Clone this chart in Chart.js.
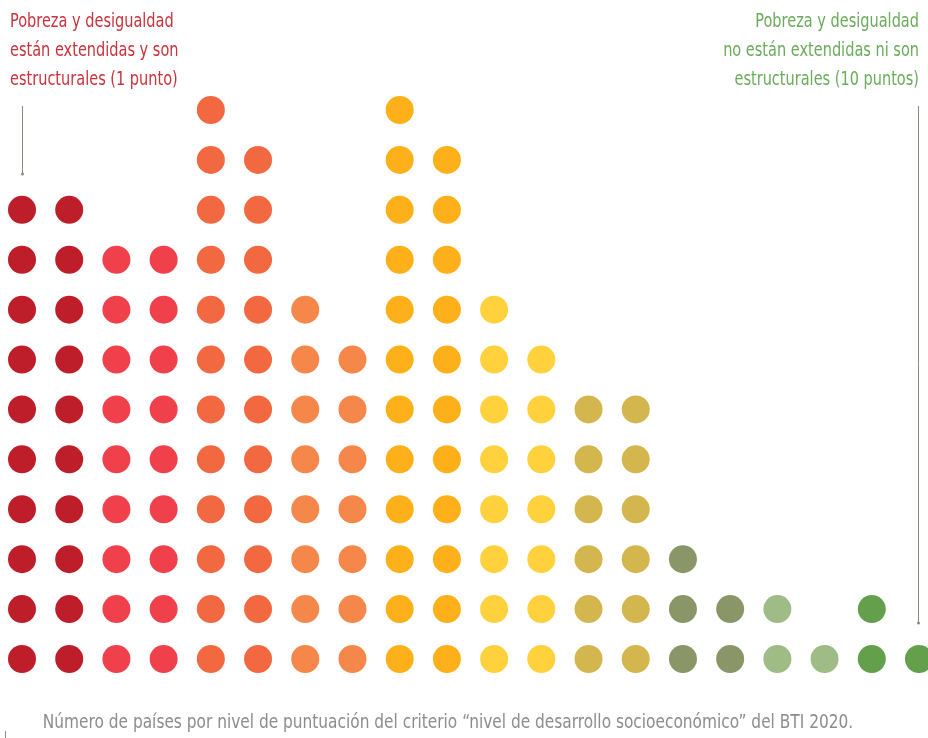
<!DOCTYPE html>
<html>
<head>
<meta charset="utf-8">
<script src="https://cdn.jsdelivr.net/npm/chart.js@4"></script>
<style>
  html, body { margin: 0; padding: 0; background: #fff; overflow: hidden; }
  #wrap { position: relative; width: 928px; height: 738px; }
  canvas { display: block; }
</style>
</head>
<body>
<div id="wrap"><canvas id="dotChart" width="928" height="738"></canvas></div>
<script>
// BTI 2020 scores, 1 to 10 in half steps, and how many countries got each score
const scores = [1, 1.5, 2, 2.5, 3, 3.5, 4, 4.5, 5, 5.5, 6, 6.5, 7, 7.5, 8, 8.5, 9, 9.5, 10, 10.5]
const countries = [10, 10, 9, 9, 12, 11, 8, 7, 12, 11, 8, 7, 6, 6, 3, 2, 2, 1, 2, 1]
const dotColors = ['#be1e2a', '#be1e2a', '#ef404c', '#ef404c', '#f26841', '#f26841',
                   '#f6874a', '#f6874a', '#fdb019', '#fdb019', '#ffd23d', '#ffd23d',
                   '#d3b64e', '#d3b64e', '#8a9668', '#8a9668', '#9fbb86', '#9fbb86',
                   '#64a04c', '#64a04c']
const leftNote = ['Pobreza y desigualdad', 'están extendidas y son', 'estructurales (1 punto)']
const rightNote = ['Pobreza y desigualdad', 'no están extendidas ni son', 'estructurales (10 puntos)']
const caption = 'Número de países por nivel de puntuación del criterio \u201cnivel de desarrollo socioeconómico\u201d del BTI 2020.'

const FONT = '"Liberation Sans Narrow", "DejaVu Sans Condensed", "Open Sans", sans-serif'

// one point per country, stacked up from the bottom row
let points = []
let colors = []
countries.forEach((n, i) => {
    for (let k = 0; k < n; k++) {
        points.push({ x: i, y: k })
        colors.push(dotColors[i])
    }
})

// text squeezed sideways to look like the condensed face of the original
function squeezedText(ctx, str, x, y, align, sx) {
    ctx.save()
    ctx.translate(x, y)
    ctx.scale(sx, 1)
    ctx.textAlign = align
    ctx.fillText(str, 0, 0)
    ctx.restore()
}

const notesPlugin = {
    id: 'notes',
    afterDraw(chart) {
        const ctx = chart.ctx
        const xs = chart.scales.x
        const ys = chart.scales.y
        ctx.save()
        ctx.font = '19px ' + FONT
        ctx.textBaseline = 'alphabetic'

        ctx.fillStyle = '#c8323c'
        leftNote.forEach((t, i) => squeezedText(ctx, t, 10, 27 + i * 29, 'left', 0.85))

        ctx.fillStyle = '#6aab5a'
        rightNote.forEach((t, i) => squeezedText(ctx, t, 919, 27 + i * 29, 'right', 0.85))

        // pointer lines
        ctx.strokeStyle = '#8a8a80'
        ctx.fillStyle = '#8a8a80'
        ctx.lineWidth = 1
        let lx = Math.round(xs.getPixelForValue(0)) + 0.5
        let rx = Math.round(xs.getPixelForValue(19)) - 0.5
        let ry = ys.getPixelForValue(1) + 14
        ctx.beginPath()
        ctx.moveTo(lx, 106)
        ctx.lineTo(lx, 174)
        ctx.moveTo(rx, 106)
        ctx.lineTo(rx, ry)
        ctx.stroke()
        ctx.beginPath()
        ctx.arc(lx, 174, 1.5, 0, Math.PI * 2)
        ctx.fill()
        ctx.beginPath()
        ctx.arc(rx, ry, 1.5, 0, Math.PI * 2)
        ctx.fill()

        // little tick bottom left
        ctx.beginPath()
        ctx.moveTo(5.5, 731)
        ctx.lineTo(5.5, 738)
        ctx.stroke()

        ctx.fillStyle = '#8c8c8c'
        ctx.font = '19px ' + FONT
        squeezedText(ctx, caption, 448, 728, 'center', 0.9)
        ctx.restore()
    }
}

new Chart(document.getElementById('dotChart'), {
    type: 'scatter',
    data: {
        datasets: [{
            label: 'Países',
            data: points,
            backgroundColor: colors,
            borderWidth: 0,
            pointRadius: 14,
            pointHoverRadius: 14,
            clip: false
        }]
    },
    options: {
        responsive: false,
        animation: false,
        layout: { autoPadding: false, padding: { left: 22, right: 9, top: 110, bottom: 79 } },
        plugins: { legend: { display: false }, tooltip: { enabled: false } },
        scales: {
            x: { display: false, min: 0, max: 19 },
            y: { display: false, min: 0, max: 11 }
        }
    },
    plugins: [notesPlugin]
})
</script>
</body>
</html>
